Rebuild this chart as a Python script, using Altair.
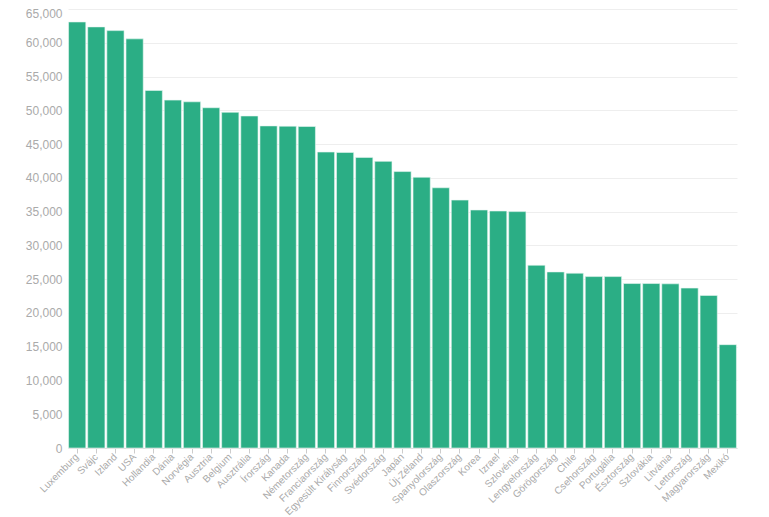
import altair as alt
import pandas as pd

countries = ["Luxemburg", "Svájc", "Izland", "USA", "Hollandia", "Dánia", "Norvégia",
             "Ausztria", "Belgium", "Ausztrália", "Írország", "Kanada", "Németország",
             "Franciaország", "Egyesült Királyság", "Finnország", "Svédország", "Japán",
             "Új-Zéland", "Spanyolország", "Olaszország", "Korea", "Izrael", "Szlovénia",
             "Lengyelország", "Görögország", "Chile", "Csehország", "Portugália",
             "Észtország", "Szlovákia", "Litvánia", "Lettország", "Magyarország", "Mexikó"]
values = [63080, 62350, 61800, 60580, 52940, 51510, 51260,
          50380, 49710, 49160, 47690, 47650, 47600,
          43820, 43760, 43030, 42440, 40930,
          40090, 38530, 36710, 35240, 35090, 35000,
          27060, 26070, 25880, 25380, 25380,
          24350, 24350, 24310, 23680, 22590, 15300]
y_ticks = list(range(0, 65001, 5000))

df = pd.DataFrame({"country": countries, "value": values})

chart = alt.Chart(df).mark_bar(color="#2bae85", stroke="#e8f7f1", strokeWidth=0.6).encode(
    x=alt.X("country:N", sort=countries, title=None,
            scale=alt.Scale(paddingInner=0.1, paddingOuter=0.03),
            axis=alt.Axis(labelAngle=-45, labelAlign="right", labelBaseline="middle",
                          labelColor="#aaaaaa", labelFontSize=10, labelFont="Liberation Sans",
                          tickColor="#cccccc", tickSize=5, domainColor="#dddddd",
                          labelPadding=2)),
    y=alt.Y("value:Q", title=None,
            scale=alt.Scale(domain=[0, 65000]),
            axis=alt.Axis(values=y_ticks, format=",d",
                          labelColor="#aaaaaa", labelFontSize=12, labelFont="Liberation Sans",
                          labelBaseline={"condition": {"test": "datum.value >= 65000", "value": "top"},
                                         "value": "middle"},
                          labelOffset={"condition": {"test": "datum.value >= 65000", "value": -1},
                                       "value": 0},
                          domain=False, ticks=False, labelPadding=6,
                          gridColor="#eeeeee"))
).properties(
    width=669, height=439,
    autosize=alt.AutoSizeParams(type="none"),
    padding={"left": 60, "top": 1, "right": 20, "bottom": 70}
).configure_view(stroke=None)

chart.save("out.html", embed_options={"renderer": "svg", "actions": False})
